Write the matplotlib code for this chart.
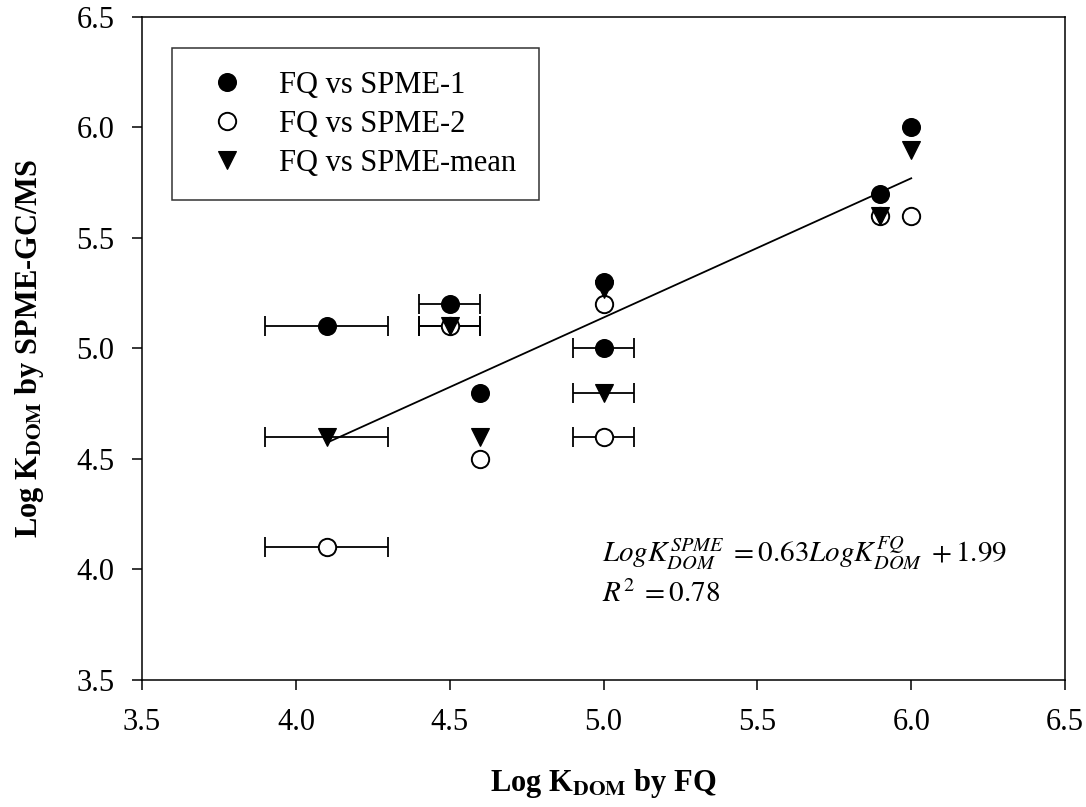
import numpy as np
import matplotlib
matplotlib.use("Agg")
import matplotlib.pyplot as plt

plt.rcParams['font.family'] = ['Liberation Serif', 'DejaVu Serif']
plt.rcParams['mathtext.fontset'] = 'stix'

# log K_DOM by fluorescence quenching (x) and by SPME-GC/MS (y)
fq = np.array([4.1, 4.5, 4.6, 5.0, 5.0, 5.9, 6.0])
fq_err = np.array([0.2, 0.1, 0.0, 0.0, 0.1, 0.0, 0.0])
spme1 = np.array([5.1, 5.2, 4.8, 5.3, 5.0, 5.7, 6.0])
spme2 = np.array([4.1, 5.1, 4.5, 5.2, 4.6, 5.6, 5.6])
spme_mean = np.array([4.6, 5.1, 4.6, 5.27, 4.8, 5.6, 5.9])

slope, intercept = 0.63, 1.99
r2 = 0.78

fig = plt.figure(figsize=(10.86, 8.07), dpi=100)
ax = fig.add_axes([0.1308, 0.1574, 0.8499, 0.8216])

has_err = fq_err > 0
for ys in (spme1, spme2, spme_mean):
    ax.errorbar(fq[has_err], ys[has_err], xerr=fq_err[has_err], fmt='none',
                ecolor='black', elinewidth=1.3, capsize=7, capthick=1.3, zorder=2)

# regression line over the fitted range
xl = np.array([fq.min(), fq.max()])
ax.plot(xl, slope * xl + intercept, color='black', lw=1.3, zorder=3)

ax.plot(fq, spme1, 'o', ms=12.5, mfc='black', mec='black', mew=1.2,
        label='FQ vs SPME-1', zorder=4)
ax.plot(fq, spme2, 'o', ms=12.5, mfc='white', mec='black', mew=1.4,
        label='FQ vs SPME-2', zorder=4)
ax.plot(fq, spme_mean, 'v', ms=13, mfc='black', mec='black', mew=0.8,
        label='FQ vs SPME-mean', zorder=5)

ax.set_xlim(3.5, 6.5)
ax.set_ylim(3.5, 6.5)
ticks = np.arange(3.5, 6.51, 0.5)
ax.set_xticks(ticks)
ax.set_yticks(ticks)
ax.set_xticklabels([f'{t:.1f}' for t in ticks])
ax.set_yticklabels([f'{t:.1f}' for t in ticks])
ax.tick_params(direction='out', length=7, width=1.1, labelsize=22, pad=13)
for sp in ax.spines.values():
    sp.set_linewidth(1.1)

ax.set_xlabel(r'Log K$_{\mathbf{DOM}}$ by FQ', fontsize=22, fontweight='bold', labelpad=22)
ax.set_ylabel(r'Log K$_{\mathbf{DOM}}$ by SPME-GC/MS', fontsize=22, fontweight='bold', labelpad=22)

ax.text(4.995, 4.034, r'$LogK_{DOM}^{SPME}\;=0.63LogK_{DOM}^{FQ}\;+1.99$',
        fontsize=21, ha='left', va='baseline')
ax.text(4.995, 3.853, r'$R^2\;=0.78$', fontsize=21, ha='left', va='baseline')

leg = ax.legend(loc='upper left', bbox_to_anchor=(0.0325, 0.953), borderaxespad=0,
                fontsize=22, frameon=True, fancybox=False, edgecolor='black',
                handlelength=2.1, handletextpad=0.65, labelspacing=0.32,
                borderpad=0.75, numpoints=1)
leg.get_frame().set_linewidth(1.1)

fig.savefig('out.png', dpi=100)
